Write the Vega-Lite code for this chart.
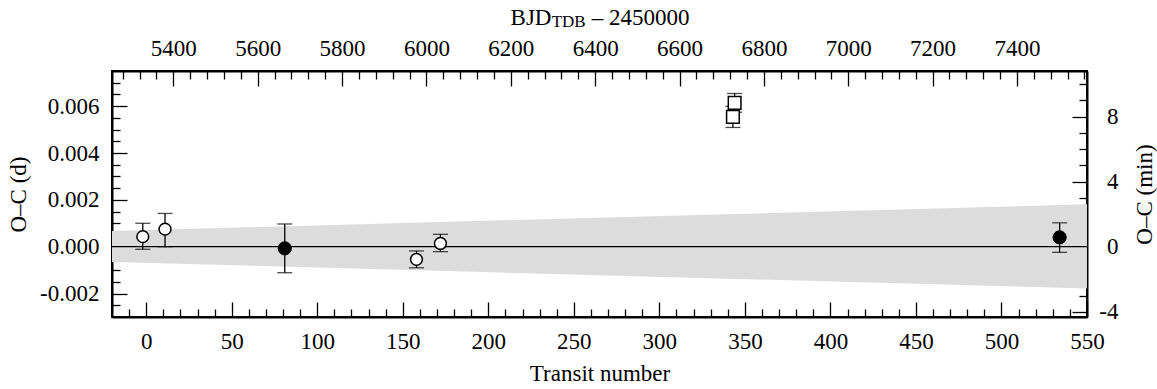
{
  "$schema": "https://vega.github.io/schema/vega-lite/v6.json",
  "autosize": {"type": "none"},
  "padding": {"left": 112, "top": 71, "right": 70, "bottom": 72},
  "width": 975,
  "height": 246,
  "background": "white",
  "config": {
    "font": "Liberation Serif",
    "view": {"stroke": "black", "strokeWidth": 2},
    "axis": {
      "grid": false,
      "domain": true,
      "domainColor": "black",
      "domainWidth": 2,
      "tickColor": "black",
      "tickWidth": 1.3,
      "labelFont": "Liberation Serif",
      "labelFontSize": 23,
      "labelColor": "black",
      "titleFont": "Liberation Serif",
      "titleFontSize": 23,
      "titleFontWeight": "normal",
      "titleColor": "black",
      "labelOverlap": false,
      "labelFlush": false
    }
  },
  "datasets": {
    "obs": [
      {"t": -2, "v": 0.00043, "lo": -0.00011, "hi": 0.00100, "kind": "open"},
      {"t": 11, "v": 0.00075, "lo": 0.00000, "hi": 0.00142, "kind": "open"},
      {"t": 81, "v": -0.00007, "lo": -0.00111, "hi": 0.00097, "kind": "filled"},
      {"t": 158, "v": -0.00054, "lo": -0.00090, "hi": -0.00018, "kind": "open"},
      {"t": 172, "v": 0.00014, "lo": -0.00021, "hi": 0.00053, "kind": "open"},
      {"t": 343, "v": 0.00554, "lo": 0.00509, "hi": 0.00599, "kind": "square"},
      {"t": 344, "v": 0.00614, "lo": 0.00574, "hi": 0.00654, "kind": "square"},
      {"t": 534, "v": 0.00040, "lo": -0.00024, "hi": 0.00102, "kind": "filled"}
    ],
    "band": [
      {"t": -20, "blo": -0.00065, "bhi": 0.00067},
      {"t": 550, "blo": -0.00178, "bhi": 0.00181}
    ],
    "secondary": [
      {"bjd": 6000, "m": 0}
    ],
    "one": [{"label": "TDB"}]
  },
  "layer": [
    {
      "layer": [
        {
          "data": {"name": "band"},
          "mark": {"type": "area", "color": "#dcdcdc", "opacity": 1},
          "encoding": {
            "x": {
              "field": "t", "type": "quantitative",
              "scale": {"domain": [-20, 550], "nice": false, "zero": false},
              "axis": {
                "orient": "bottom",
                "title": "Transit number",
                "titlePadding": 2,
                "tickCount": 1000,
                "values": [-10,0,10,20,30,40,50,60,70,80,90,100,110,120,130,140,150,160,170,180,190,200,210,220,230,240,250,260,270,280,290,300,310,320,330,340,350,360,370,380,390,400,410,420,430,440,450,460,470,480,490,500,510,520,530,540,550],
                "labelExpr": "datum.value % 50 === 0 ? format(datum.value, 'd') : ''",
                "tickSize": {"condition": {"test": "datum.value % 50 === 0", "value": -15}, "value": -8},
                "labelPadding": 28
              }
            },
            "y": {
              "field": "blo", "type": "quantitative",
              "scale": {"domain": [-0.003, 0.0075], "nice": false, "zero": false},
              "axis": {
                "orient": "left",
                "title": "O–C (d)",
                "titlePadding": 9,
                "tickCount": 1000,
                "values": [-0.0025,-0.002,-0.0015,-0.001,-0.0005,0,0.0005,0.001,0.0015,0.002,0.0025,0.003,0.0035,0.004,0.0045,0.005,0.0055,0.006,0.0065,0.007],
                "labelExpr": "abs(round(datum.value*10000)) % 20 === 0 ? replace(format(datum.value, '.3f'), '\u2212', '-') : ''",
                "tickSize": {"condition": {"test": "abs(round(datum.value*10000)) % 20 === 0", "value": -15}, "value": -8},
                "labelPadding": 28
              }
            },
            "y2": {"field": "bhi"}
          }
        },
        {
          "data": {"name": "one"},
          "mark": {"type": "rule", "color": "black", "strokeWidth": 1.3},
          "encoding": {"y": {"datum": 0}}
        },
        {
          "data": {"name": "obs"},
          "mark": {"type": "rule", "color": "black", "strokeWidth": 1.3},
          "encoding": {
            "x": {"field": "t", "type": "quantitative"},
            "y": {"field": "lo", "type": "quantitative"},
            "y2": {"field": "hi"}
          }
        },
        {
          "data": {"name": "obs"},
          "mark": {"type": "tick", "orient": "horizontal", "color": "black", "size": 15, "thickness": 1.3},
          "encoding": {
            "x": {"field": "t", "type": "quantitative"},
            "y": {"field": "lo", "type": "quantitative"}
          }
        },
        {
          "data": {"name": "obs"},
          "mark": {"type": "tick", "orient": "horizontal", "color": "black", "size": 15, "thickness": 1.3},
          "encoding": {
            "x": {"field": "t", "type": "quantitative"},
            "y": {"field": "hi", "type": "quantitative"}
          }
        },
        {
          "data": {"name": "obs"},
          "transform": [{"filter": "datum.kind === 'open'"}],
          "mark": {"type": "point", "shape": "circle", "filled": true, "fill": "white", "stroke": "black", "strokeWidth": 1.5, "size": 140, "opacity": 1},
          "encoding": {
            "x": {"field": "t", "type": "quantitative"},
            "y": {"field": "v", "type": "quantitative"}
          }
        },
        {
          "data": {"name": "obs"},
          "transform": [{"filter": "datum.kind === 'filled'"}],
          "mark": {"type": "point", "shape": "circle", "filled": true, "fill": "black", "stroke": "black", "strokeWidth": 1, "size": 175, "opacity": 1},
          "encoding": {
            "x": {"field": "t", "type": "quantitative"},
            "y": {"field": "v", "type": "quantitative"}
          }
        },
        {
          "data": {"name": "obs"},
          "transform": [{"filter": "datum.kind === 'square'"}],
          "mark": {"type": "point", "shape": "square", "filled": true, "fill": "white", "stroke": "black", "strokeWidth": 1.5, "size": 160, "opacity": 1},
          "encoding": {
            "x": {"field": "t", "type": "quantitative"},
            "y": {"field": "v", "type": "quantitative"}
          }
        },
        {
          "data": {"name": "one"},
          "mark": {"type": "text", "font": "Liberation Serif", "fontSize": 17, "align": "center", "baseline": "alphabetic", "color": "black", "clip": false},
          "encoding": {
            "text": {"field": "label"},
            "x": {"datum": 247},
            "y": {"datum": 0.00938}
          }
        }
      ]
    },
    {
      "data": {"name": "secondary"},
      "mark": {"type": "point", "opacity": 0},
      "encoding": {
        "x": {
          "field": "bjd", "type": "quantitative",
          "scale": {"domain": [5254.6, 7566], "nice": false, "zero": false},
          "axis": {
            "orient": "top",
            "title": "BJD\u00a0\u00a0\u00a0\u00a0\u00a0\u00a0\u00a0– 2450000",
            "titlePadding": 1,
            "tickCount": 1000,
            "values": [5280,5320,5360,5400,5440,5480,5520,5560,5600,5640,5680,5720,5760,5800,5840,5880,5920,5960,6000,6040,6080,6120,6160,6200,6240,6280,6320,6360,6400,6440,6480,6520,6560,6600,6640,6680,6720,6760,6800,6840,6880,6920,6960,7000,7040,7080,7120,7160,7200,7240,7280,7320,7360,7400,7440,7480,7520,7560],
            "labelExpr": "datum.value % 200 === 0 ? format(datum.value, 'd') : ''",
            "tickSize": {"condition": {"test": "datum.value % 200 === 0", "value": -15}, "value": -8},
            "labelPadding": 26
          }
        },
        "y": {
          "field": "m", "type": "quantitative",
          "scale": {"domain": [-4.32, 10.8], "nice": false, "zero": false},
          "axis": {
            "orient": "right",
            "title": "O–C (min)",
            "titleAngle": -90,
            "titleBaseline": "top",
            "titlePadding": 8,
            "tickCount": 1000,
            "values": [-4,-3,-2,-1,0,1,2,3,4,5,6,7,8,9,10],
            "labelExpr": "datum.value % 4 === 0 ? replace(format(datum.value, 'd'), '\u2212', '-') : ''",
            "labelAlign": "right",
            "tickSize": {"condition": {"test": "datum.value % 4 === 0", "value": -15}, "value": -8},
            "labelPadding": 46
          }
        }
      }
    }
  ],
  "resolve": {
    "scale": {"x": "independent", "y": "independent"},
    "axis": {"x": "independent", "y": "independent"}
  }
}
